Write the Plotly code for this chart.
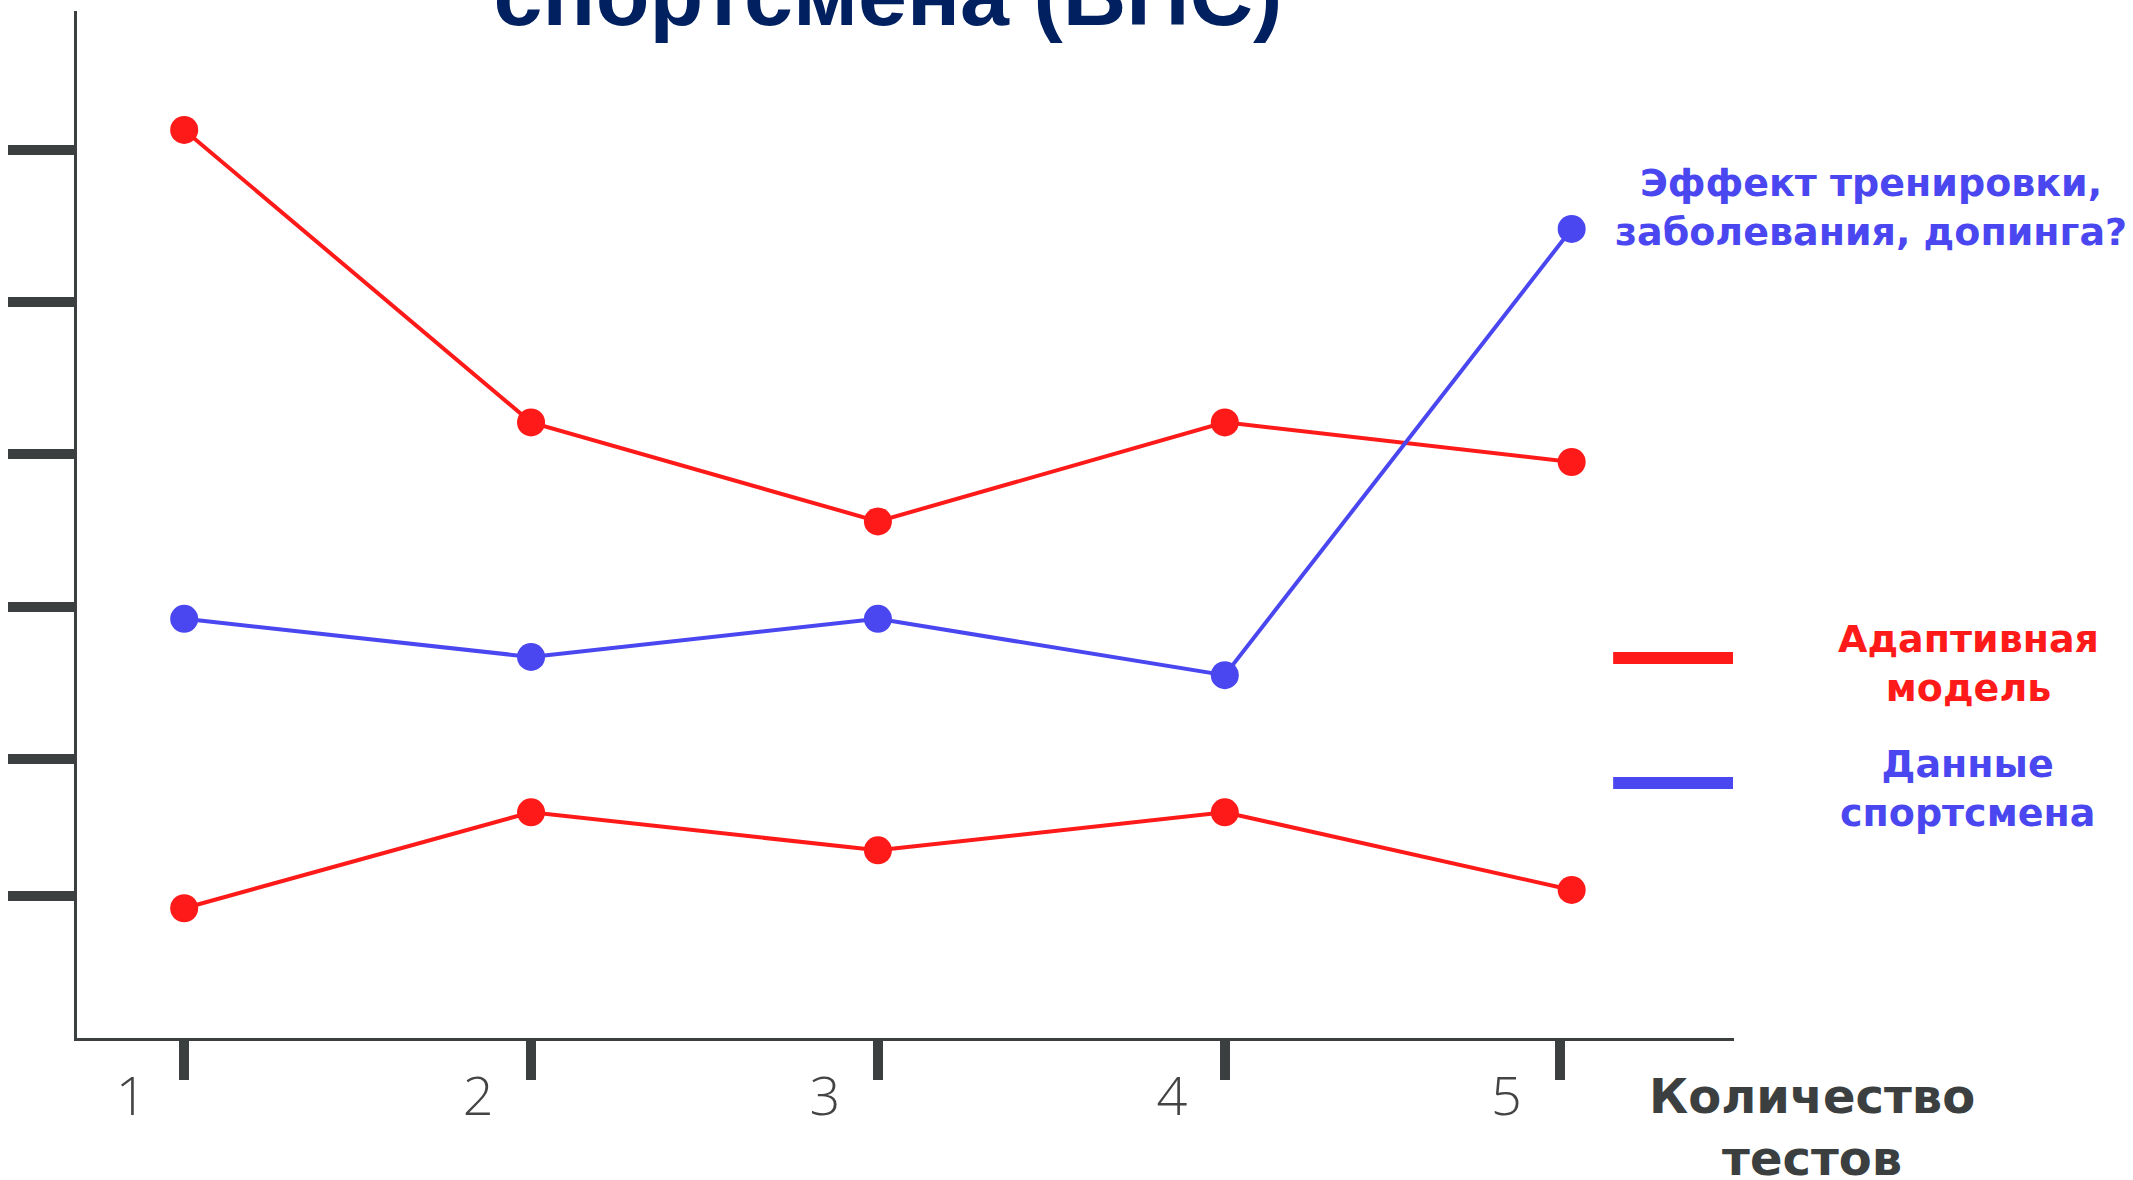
import plotly.graph_objects as go

# ---- data ----
tests = [1, 2, 3, 4, 5]
tick_labels = ["1", "2", "3", "4", "5"]
model_upper = [6.13, 4.21, 3.56, 4.21, 3.95]
athlete = [2.92, 2.67, 2.92, 2.55, 5.48]
model_lower = [1.02, 1.65, 1.40, 1.65, 1.14]
y_ticks = [1.10, 2, 3, 4, 5, 6]

RED = "#ff1a1a"
BLUE = "#4a47f0"
AXIS = "#3c3f3f"
NAVY = "#002060"

W, H = 2133, 1180
L, R, T, B = 75, 1734, 11, 1038  # plot area in pixels


def px(X):
    return (X - L) / (R - L)


def py(Y):
    return (B - Y) / (B - T)


fig = go.Figure()
for ys, col in [(model_upper, RED), (athlete, BLUE), (model_lower, RED)]:
    fig.add_trace(go.Scatter(
        x=tests, y=ys, mode="lines+markers",
        line=dict(color=col, width=4),
        marker=dict(color=col, size=28),
        cliponaxis=False, hoverinfo="skip",
    ))

fig.update_layout(
    width=W, height=H,
    margin=dict(l=L, r=W - R, t=T, b=H - B, pad=0),
    paper_bgcolor="white", plot_bgcolor="white",
    showlegend=False,
    title=dict(
        text="<b>спортсмена (ВПС)</b>",
        font=dict(family="Liberation Sans, Arial", size=88, color=NAVY),
        x=888 / W, xanchor="center", xref="container",
        y=1 - 25 / H, yanchor="bottom", yref="container",
    ),
    xaxis=dict(
        range=[0.691, 5.468],
        tickvals=[1, 2, 3, 4, 4.965], ticktext=tick_labels,
        ticks="outside", ticklen=39, tickwidth=10, tickcolor=AXIS,
        showline=True, linecolor=AXIS, linewidth=3,
        showgrid=False, zeroline=False,
        tickfont=dict(family="Open Sans", size=54, color="#444", weight=300),
        ticklabelshift=-53,
        ticklabelstandoff=-30,
    ),
    yaxis=dict(
        range=[0.168, 6.911],
        tickvals=y_ticks, showticklabels=False,
        ticks="outside", ticklen=66, tickwidth=10, tickcolor=AXIS,
        showline=True, linecolor=AXIS, linewidth=3,
        showgrid=False, zeroline=False,
    ),
)

bold = "DejaVu Sans"
ann = [
    ("Эффект тренировки,<br>заболевания, допинга?", 1871, 207, BLUE, 38),
    ("Адаптивная<br>модель", 1969, 663, RED, 38),
    ("Данные<br>спортсмена", 1968, 788, BLUE, 38),
    ("Количество<br>тестов", 1812, 1127, AXIS, 48),
]
for text, X, Y, col, size in ann:
    fig.add_annotation(
        text="<b>" + text + "</b>", x=px(X), y=py(Y), xref="paper", yref="paper",
        xanchor="center", yanchor="middle", showarrow=False,
        font=dict(family=bold, size=size, color=col),
    )

for Y, col in [(658, RED), (783, BLUE)]:
    fig.add_shape(type="line", xref="paper", yref="paper",
                  x0=px(1613), x1=px(1733), y0=py(Y), y1=py(Y),
                  line=dict(color=col, width=12))

fig.write_html("out.html",
               config={"displayModeBar": False},
               post_script="document.body.style.margin='0';document.body.style.overflow='hidden';")
